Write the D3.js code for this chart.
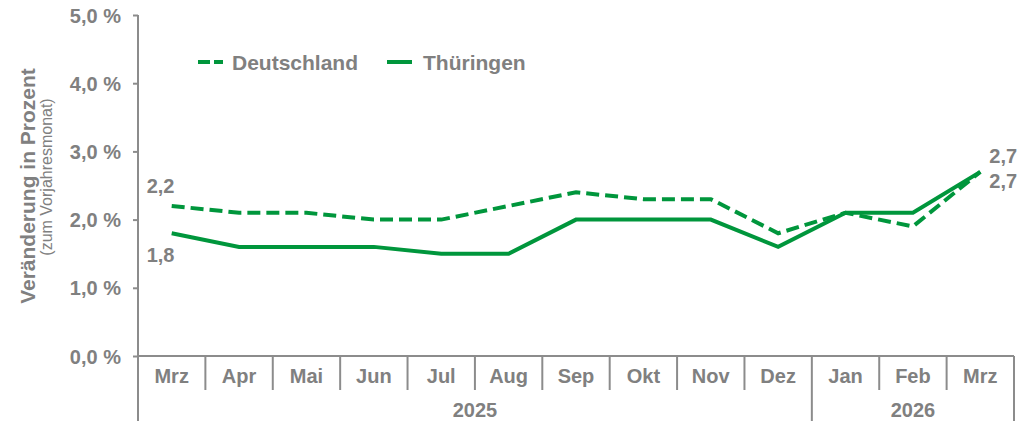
<!DOCTYPE html>
<html><head><meta charset="utf-8">
<script src="https://cdn.jsdelivr.net/npm/d3@7"></script>
<style>body{margin:0;background:#fff}svg{display:block;font-family:"Liberation Sans",Arial,sans-serif}</style>
</head><body><svg id="c" width="1036" height="421"></svg>
<script>
const months = ["Mrz","Apr","Mai","Jun","Jul","Aug","Sep","Okt","Nov","Dez","Jan","Feb","Mrz"];
const years = [{label:"2025", from:0, to:10},{label:"2026", from:10, to:13}];
const deutschland = [2.2,2.1,2.1,2.0,2.0,2.2,2.4,2.3,2.3,1.8,2.1,1.9,2.7];
const thueringen  = [1.8,1.6,1.6,1.6,1.5,1.5,2.0,2.0,2.0,1.6,2.1,2.1,2.7];
const yTicks = [0,1,2,3,4,5];

const GRAY = "#808080", AX = "#8c8c8c", GREEN = "#00963c";
const svg = d3.select("#c");
const x0 = 138, x1 = 1014;
const band = d3.scaleBand().domain(d3.range(months.length)).range([x0, x1]).padding(0);
const xs = i => band(i) + band.bandwidth()/2;
const y = d3.scaleLinear().domain([0,5]).range([356,15]);
const fmt = v => v.toFixed(1).replace(".", ",");

// y axis
const ya = svg.append("g").attr("transform",`translate(${x0},0)`)
  .call(d3.axisLeft(y).tickValues(yTicks).tickSize(5).tickPadding(12).tickFormat(v => fmt(v) + " %"));
ya.select(".domain").remove();
ya.selectAll(".tick line").attr("stroke", AX).attr("stroke-width", 2);
ya.selectAll(".tick text").attr("fill", GRAY).style("font-size","20px").style("font-weight","bold")
  .attr("dy","0.35em").attr("x",-17);
svg.append("line").attr("x1",x0).attr("x2",x0).attr("y1",y(5)).attr("y2",421).attr("stroke",AX).attr("stroke-width",2);
// x baseline
svg.append("line").attr("x1",x0).attr("x2",x1).attr("y1",y(0)).attr("y2",y(0)).attr("stroke",AX).attr("stroke-width",2);
// category separators
months.forEach((m,i) => {
  if (i === 0) return;
  const isYear = years.some(yr => yr.from === i);
  svg.append("line").attr("x1",band(i)).attr("x2",band(i)).attr("y1",y(0)).attr("y2",isYear?421:390)
    .attr("stroke",AX).attr("stroke-width",2);
});
svg.append("line").attr("x1",x1).attr("x2",x1).attr("y1",y(0)).attr("y2",421).attr("stroke",AX).attr("stroke-width",2);
// month labels
svg.append("g").selectAll("text").data(months).join("text")
  .attr("x",(d,i)=>xs(i)).attr("y",383).attr("text-anchor","middle")
  .attr("fill",GRAY).style("font-size","20px").style("font-weight","bold").text(d=>d);
svg.append("g").selectAll("text").data(years).join("text")
  .attr("x",d=>(band(d.from)+ (d.to>=months.length? x1 : band(d.to)))/2).attr("y",417).attr("text-anchor","middle")
  .attr("fill",GRAY).style("font-size","20px").style("font-weight","bold").text(d=>d.label);

// y title
const tg = svg.append("g");
tg.append("text").attr("transform","translate(35,186) rotate(-90)").attr("text-anchor","middle")
  .attr("fill",GRAY).style("font-size","21px").style("font-weight","bold").text("Veränderung in Prozent");
tg.append("text").attr("transform","translate(52,177) rotate(-90)").attr("text-anchor","middle")
  .attr("fill",GRAY).style("font-size","16px").text("(zum Vorjahresmonat)");

// lines
const line = d3.line().x((d,i)=>xs(i)).y(d=>y(d));
svg.append("path").datum(deutschland).attr("d",line).attr("fill","none").attr("stroke",GREEN)
  .attr("stroke-width",4).attr("stroke-dasharray","13,6");
svg.append("path").datum(thueringen).attr("d",line).attr("fill","none").attr("stroke",GREEN)
  .attr("stroke-width",4);

// data labels
const lab = (t,xx,yy,anchor) => svg.append("text").attr("x",xx).attr("y",yy).attr("text-anchor",anchor||"start")
  .attr("fill",GRAY).style("font-size","20px").style("font-weight","bold").text(t);
const last = months.length-1;
lab(fmt(deutschland[0]), xs(0)-25, y(deutschland[0])-13);
lab(fmt(thueringen[0]), xs(0)-25, y(thueringen[0])+29);
lab(fmt(thueringen[last]), xs(last)+9, y(thueringen[last])-9);
lab(fmt(deutschland[last]), xs(last)+9, y(deutschland[last])+16);

// legend
const lg = svg.append("g");
lg.append("line").attr("x1",198).attr("x2",223).attr("y1",62).attr("y2",62).attr("stroke",GREEN).attr("stroke-width",4).attr("stroke-dasharray","12,4");
lg.append("text").attr("x",232).attr("y",70).attr("fill",GRAY).style("font-size","21px").style("font-weight","bold").text("Deutschland");
lg.append("line").attr("x1",387).attr("x2",412).attr("y1",62).attr("y2",62).attr("stroke",GREEN).attr("stroke-width",4);
lg.append("text").attr("x",423).attr("y",70).attr("fill",GRAY).style("font-size","21px").style("font-weight","bold").text("Thüringen");
</script></body></html>
